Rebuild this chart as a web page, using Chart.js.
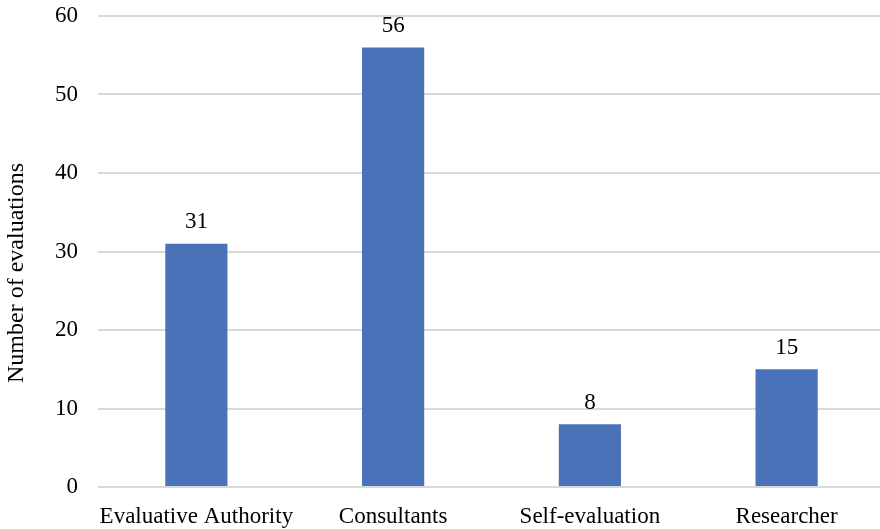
<!DOCTYPE html>
<html>
<head>
<meta charset="utf-8">
<script src="https://cdn.jsdelivr.net/npm/chart.js@4"></script>
<style>
  html, body { margin: 0; padding: 0; background: #fff; overflow: hidden; }
  #wrap { width: 885px; height: 529px; }
</style>
</head>
<body>
<div id="wrap"><canvas id="evalChart"></canvas></div>
<script>
var categories = ['Evaluative Authority', 'Consultants', 'Self-evaluation', 'Researcher'];
var evaluations = [31, 56, 8, 15];
var yTicks = [0, 10, 20, 30, 40, 50, 60];
var yTitle = 'Number of evaluations';

var serif = "'Liberation Serif', 'Times New Roman', serif";

// value labels above each bar, plus the rotated y-axis title
var barLabels = {
    id: 'barLabels',
    afterDatasetsDraw: function (chart) {
        var ctx = chart.ctx;
        var meta = chart.getDatasetMeta(0);
        ctx.save();
        ctx.font = '23px ' + serif;
        ctx.fillStyle = '#000';
        ctx.textAlign = 'center';
        ctx.textBaseline = 'bottom';
        meta.data.forEach(function (bar, i) {
            ctx.fillText(evaluations[i], bar.x, bar.y - 10);
        });

        ctx.font = '24px ' + serif;
        ctx.textBaseline = 'middle';
        ctx.translate(17, 273);
        ctx.rotate(-Math.PI / 2);
        ctx.fillText(yTitle, 0, 0);
        ctx.restore();
    }
};

document.addEventListener('DOMContentLoaded', function () {
    var ctx = document.getElementById('evalChart').getContext('2d');
    new Chart(ctx, {
        type: 'bar',
        data: {
            labels: categories,
            datasets: [{
                data: evaluations,
                backgroundColor: '#4a72b8',
                barPercentage: 0.316,
                categoryPercentage: 1
            }]
        },
        options: {
            responsive: true,
            maintainAspectRatio: false,
            animation: false,
            layout: { padding: { top: 16, right: 0, bottom: 0, left: 0 } },
            plugins: {
                legend: { display: false },
                tooltip: { enabled: false }
            },
            scales: {
                x: {
                    grid: { display: false },
                    border: { display: false },
                    ticks: {
                        color: '#000',
                        font: { family: serif, size: 23 },
                        padding: 8,
                        maxRotation: 0
                    },
                    afterFit: function (scale) {
                        scale.height = 42;
                        scale.paddingLeft = 0;
                        scale.paddingRight = 0;
                    }
                },
                y: {
                    min: 0,
                    max: 60,
                    afterBuildTicks: function (scale) {
                        scale.ticks = yTicks.map(function (v) { return { value: v }; });
                    },
                    grid: { color: '#d9d9d9', lineWidth: 2, drawTicks: false },
                    border: { display: false },
                    ticks: {
                        color: '#000',
                        font: { family: serif, size: 23 },
                        padding: 20
                    },
                    afterFit: function (scale) {
                        scale.width = 98;
                        scale.paddingTop = 0;
                        scale.paddingBottom = 0;
                    }
                }
            }
        },
        plugins: [barLabels]
    });
});
</script>
</body>
</html>
